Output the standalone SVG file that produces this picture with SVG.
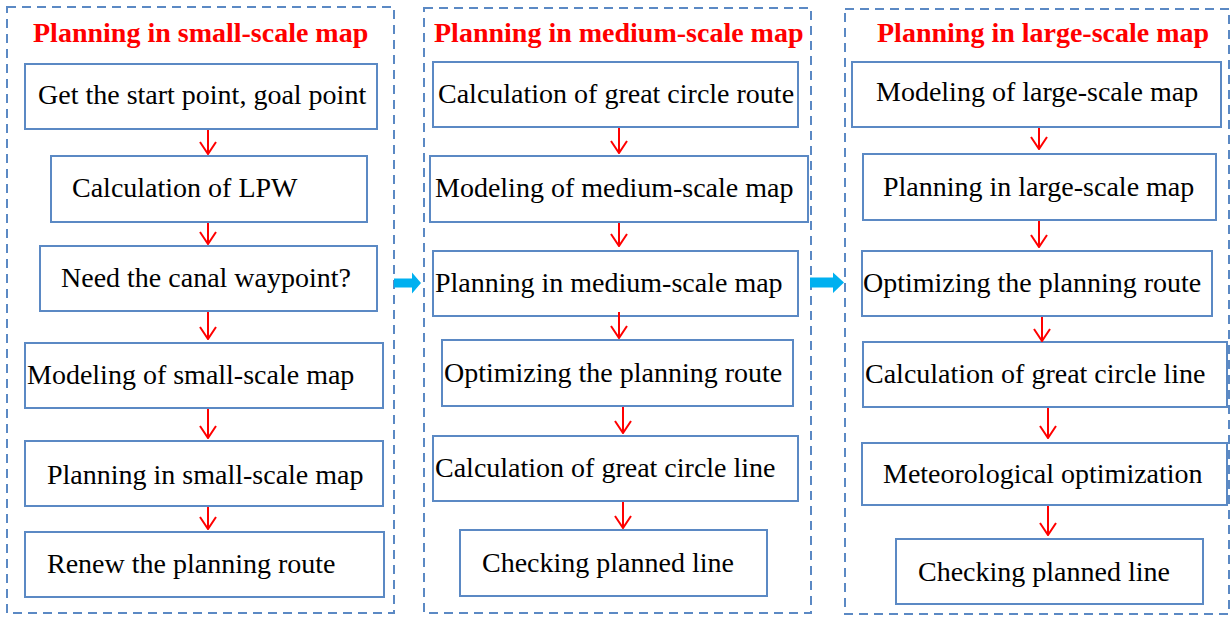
<svg xmlns="http://www.w3.org/2000/svg" width="1231" height="617" viewBox="0 0 1231 617">
  <style>
    .panel { fill: none; stroke: #5B89C4; stroke-width: 2; stroke-dasharray: 9 6; }
    .box { fill: #FFFFFF; stroke: #5B89C4; stroke-width: 2; }
    .title { font-family: "Liberation Serif", "Times New Roman", serif; font-weight: bold; font-size: 28px; fill: #FF0000; }
    .label { font-family: "Liberation Serif", "Times New Roman", serif; font-size: 28px; fill: #000000; }
    .flow { stroke: #FF0000; stroke-width: 2; fill: none; marker-end: url(#vhead); }
    .jump { fill: #00B0F0; }
  </style>
  <defs>
    <!-- open V head, drawn pointing along +x so orient="auto" turns it with the line -->
    <marker id="vhead" viewBox="0 0 14 18" refX="13" refY="9" markerWidth="14" markerHeight="18" markerUnits="userSpaceOnUse" orient="auto">
      <path d="M1,1 L13,9 L1,17" fill="none" stroke="#FF0000" stroke-width="2"/>
    </marker>
  </defs>
  <rect width="1231" height="617" fill="#FFFFFF"/>

  <!-- Stage panels -->
  <g id="panel-small">
    <rect class="panel" x="7" y="7" width="387" height="606"/>
    <text class="title" x="33" y="42">Planning in small-scale map</text>
  </g>
  <g id="panel-medium">
    <rect class="panel" x="424" y="8" width="387" height="605"/>
    <text class="title" x="434" y="42">Planning in medium-scale map</text>
  </g>
  <g id="panel-large">
    <rect class="panel" x="845" y="9" width="384" height="605"/>
    <text class="title" x="877" y="42">Planning in large-scale map</text>
  </g>

  <!-- Small-scale steps -->
  <g id="s1"><rect class="box" x="25" y="64" width="352" height="65"/><text class="label" x="38" y="104">Get the start point, goal point</text></g>
  <g id="s2"><rect class="box" x="51" y="156" width="316" height="66"/><text class="label" x="72" y="197">Calculation of LPW</text></g>
  <g id="s3"><rect class="box" x="40" y="246" width="337" height="65"/><text class="label" x="61" y="287">Need the canal waypoint?</text></g>
  <g id="s4"><rect class="box" x="25" y="343" width="358" height="65"/><text class="label" x="27" y="384">Modeling of small-scale map</text></g>
  <g id="s5"><rect class="box" x="25" y="441" width="358" height="65"/><text class="label" x="47" y="484">Planning in small-scale map</text></g>
  <g id="s6"><rect class="box" x="25" y="532" width="359" height="65"/><text class="label" x="47" y="573">Renew the planning route</text></g>

  <!-- Medium-scale steps -->
  <g id="m1"><rect class="box" x="433" y="62" width="365" height="65"/><text class="label" x="438" y="103">Calculation of great circle route</text></g>
  <g id="m2"><rect class="box" x="430" y="156" width="378" height="66"/><text class="label" x="435" y="197">Modeling of medium-scale map</text></g>
  <g id="m3"><rect class="box" x="433" y="251" width="365" height="65"/><text class="label" x="435" y="292">Planning in medium-scale map</text></g>
  <g id="m4"><rect class="box" x="442" y="340" width="351" height="66"/><text class="label" x="444" y="382">Optimizing the planning route</text></g>
  <g id="m5"><rect class="box" x="433" y="436" width="365" height="65"/><text class="label" x="435" y="477">Calculation of great circle line</text></g>
  <g id="m6"><rect class="box" x="460" y="530" width="307" height="66"/><text class="label" x="482" y="572">Checking planned line</text></g>

  <!-- Large-scale steps -->
  <g id="l1"><rect class="box" x="852" y="62" width="369" height="65"/><text class="label" x="876" y="101">Modeling of large-scale map</text></g>
  <g id="l2"><rect class="box" x="863" y="154" width="353" height="66"/><text class="label" x="883" y="196">Planning in large-scale map</text></g>
  <g id="l3"><rect class="box" x="862" y="251" width="350" height="65"/><text class="label" x="863" y="292">Optimizing the planning route</text></g>
  <g id="l4"><rect class="box" x="863" y="342" width="364" height="65"/><text class="label" x="865" y="383">Calculation of great circle line</text></g>
  <g id="l5"><rect class="box" x="862" y="443" width="365" height="62"/><text class="label" x="883" y="483">Meteorological optimization</text></g>
  <g id="l6"><rect class="box" x="896" y="539" width="307" height="65"/><text class="label" x="918" y="581">Checking planned line</text></g>

  <!-- Connectors -->
  <g id="connectors">
    <line class="flow" x1="208" y1="130" x2="208" y2="154"/>
    <line class="flow" x1="208" y1="223" x2="208" y2="244"/>
    <line class="flow" x1="208" y1="312" x2="208" y2="339"/>
    <line class="flow" x1="208" y1="409" x2="208" y2="438"/>
    <line class="flow" x1="208" y1="507" x2="208" y2="529"/>

    <line class="flow" x1="619" y1="128" x2="619" y2="153"/>
    <line class="flow" x1="619" y1="223" x2="619" y2="246"/>
    <line class="flow" x1="619" y1="312" x2="619" y2="338"/>
    <line class="flow" x1="623" y1="407" x2="623" y2="433"/>
    <line class="flow" x1="623" y1="502" x2="623" y2="528"/>

    <line class="flow" x1="1039" y1="128" x2="1039" y2="149"/>
    <line class="flow" x1="1039" y1="221" x2="1039" y2="247"/>
    <line class="flow" x1="1042" y1="317" x2="1042" y2="341"/>
    <line class="flow" x1="1048" y1="408" x2="1048" y2="438"/>
    <line class="flow" x1="1048" y1="506" x2="1048" y2="535"/>

    <!-- stage-to-stage block arrows -->
    <path class="jump" d="M394,278.5 H412 V272.5 L421,283 L412,293.5 V287.5 H394 Z"/>
    <path class="jump" d="M810,277.5 H833 V272.5 L844,282.5 L833,293 V287.5 H810 Z"/>
  </g>
</svg>
